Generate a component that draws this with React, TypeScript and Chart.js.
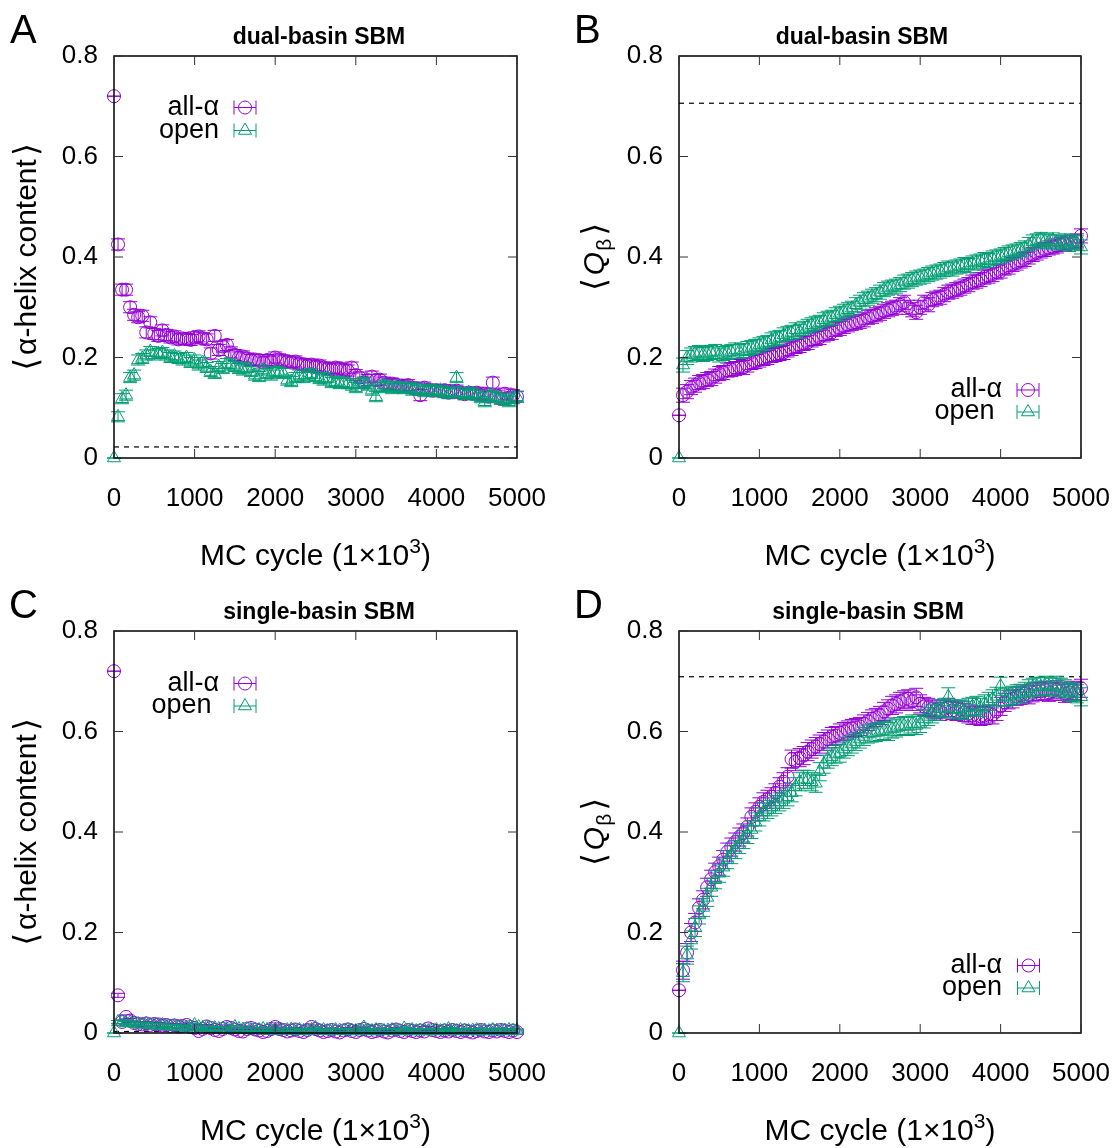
import React, { useEffect, useRef } from "react";
import { Chart, registerables } from "chart.js";

Chart.register(...registerables);

const FONT = "'Liberation Sans', 'DejaVu Sans', Arial, sans-serif";
const PURPLE = "#9400d3";
const GREEN = "#009e73";

// ---------------- data ----------------
const MC_CYCLE = [
  0, 50, 100, 150, 200, 250, 300, 350, 400, 450,
  500, 550, 600, 650, 700, 750, 800, 850, 900, 950,
  1000, 1050, 1100, 1150, 1200, 1250, 1300, 1350, 1400, 1450,
  1500, 1550, 1600, 1650, 1700, 1750, 1800, 1850, 1900, 1950,
  2000, 2050, 2100, 2150, 2200, 2250, 2300, 2350, 2400, 2450,
  2500, 2550, 2600, 2650, 2700, 2750, 2800, 2850, 2900, 2950,
  3000, 3050, 3100, 3150, 3200, 3250, 3300, 3350, 3400, 3450,
  3500, 3550, 3600, 3650, 3700, 3750, 3800, 3850, 3900, 3950,
  4000, 4050, 4100, 4150, 4200, 4250, 4300, 4350, 4400, 4450,
  4500, 4550, 4600, 4650, 4700, 4750, 4800, 4850, 4900, 4950, 5000,
];

const X_TICKS = [0, 1000, 2000, 3000, 4000, 5000];
const X_TICK_LABELS = ["0", "1000", "2000", "3000", "4000", "5000"];
const Y_TICKS = [0, 0.2, 0.4, 0.6, 0.8];
const Y_TICK_LABELS = ["0", "0.2", "0.4", "0.6", "0.8"];

// Panel A: dual-basin SBM, alpha-helix content
const A_ALL_ALPHA = [
  0.72, 0.425, 0.335, 0.335, 0.300, 0.285, 0.280, 0.283, 0.250, 0.270,
  0.247, 0.243, 0.254, 0.245, 0.240, 0.242, 0.236, 0.238, 0.237, 0.235,
  0.240, 0.242, 0.238, 0.236, 0.208, 0.243, 0.215, 0.222, 0.225, 0.210,
  0.205, 0.200, 0.202, 0.198, 0.195, 0.196, 0.194, 0.190, 0.195, 0.192,
  0.200, 0.196, 0.194, 0.192, 0.190, 0.192, 0.188, 0.186, 0.184, 0.186,
  0.182, 0.184, 0.180, 0.178, 0.176, 0.180, 0.178, 0.176, 0.174, 0.180,
  0.165, 0.160, 0.150, 0.155, 0.162, 0.155, 0.156, 0.150, 0.146, 0.148,
  0.146, 0.142, 0.144, 0.145, 0.140, 0.138, 0.125, 0.140, 0.136, 0.134,
  0.135, 0.133, 0.135, 0.130, 0.132, 0.134, 0.130, 0.127, 0.130, 0.128,
  0.130, 0.125, 0.128, 0.122, 0.150, 0.124, 0.118, 0.128, 0.120, 0.125, 0.122,
];
const A_OPEN = [
  0.000, 0.082, 0.118, 0.125, 0.160, 0.165, 0.195, 0.198, 0.205, 0.212,
  0.205, 0.208, 0.210, 0.205, 0.200, 0.203, 0.198, 0.195, 0.200, 0.190,
  0.195, 0.185, 0.190, 0.180, 0.172, 0.168, 0.182, 0.178, 0.188, 0.185,
  0.182, 0.178, 0.175, 0.180, 0.172, 0.165, 0.162, 0.175, 0.168, 0.165,
  0.172, 0.170, 0.168, 0.155, 0.152, 0.160, 0.165, 0.160, 0.165, 0.168,
  0.162, 0.158, 0.155, 0.160, 0.150, 0.152, 0.148, 0.150, 0.148, 0.145,
  0.140, 0.148, 0.150, 0.145, 0.135, 0.122, 0.140, 0.145, 0.142, 0.138,
  0.142, 0.140, 0.138, 0.140, 0.135, 0.138, 0.135, 0.132, 0.136, 0.134,
  0.132, 0.135, 0.130, 0.128, 0.132, 0.160, 0.130, 0.126, 0.130, 0.128,
  0.125, 0.120, 0.112, 0.125, 0.122, 0.120, 0.118, 0.115, 0.112, 0.118, 0.122,
];
const A_REFERENCE = 0.022;
const A_ALL_ALPHA_SEM = 0.011;
const A_OPEN_SEM = 0.01;

// Panel B: dual-basin SBM, Q_beta
const B_ALL_ALPHA = [
  0.085, 0.125, 0.132, 0.140, 0.145, 0.150, 0.152, 0.156, 0.158, 0.163,
  0.168, 0.170, 0.175, 0.176, 0.178, 0.182, 0.180, 0.185, 0.190, 0.192,
  0.195, 0.198, 0.200, 0.204, 0.206, 0.208, 0.210, 0.215, 0.218, 0.222,
  0.224, 0.228, 0.230, 0.235, 0.238, 0.240, 0.245, 0.248, 0.250, 0.256,
  0.258, 0.262, 0.265, 0.268, 0.270, 0.272, 0.275, 0.280, 0.282, 0.285,
  0.288, 0.292, 0.295, 0.298, 0.300, 0.305, 0.310, 0.300, 0.295, 0.290,
  0.300, 0.310, 0.305, 0.315, 0.318, 0.320, 0.325, 0.330, 0.332, 0.335,
  0.338, 0.342, 0.345, 0.350, 0.352, 0.355, 0.360, 0.362, 0.365, 0.370,
  0.372, 0.378, 0.380, 0.385, 0.388, 0.392, 0.395, 0.400, 0.405, 0.408,
  0.412, 0.415, 0.418, 0.420, 0.422, 0.425, 0.428, 0.425, 0.430, 0.432, 0.442,
];
const B_OPEN = [
  0.000, 0.185, 0.200, 0.205, 0.208, 0.210, 0.206, 0.208, 0.210, 0.212,
  0.205, 0.208, 0.210, 0.212, 0.215, 0.212, 0.214, 0.218, 0.220, 0.222,
  0.225, 0.228, 0.230, 0.235, 0.238, 0.240, 0.245, 0.248, 0.250, 0.255,
  0.252, 0.258, 0.262, 0.265, 0.268, 0.270, 0.275, 0.278, 0.280, 0.285,
  0.288, 0.292, 0.295, 0.298, 0.305, 0.310, 0.315, 0.318, 0.322, 0.325,
  0.330, 0.335, 0.338, 0.340, 0.342, 0.345, 0.350, 0.352, 0.355, 0.358,
  0.360, 0.362, 0.365, 0.368, 0.370, 0.372, 0.375, 0.378, 0.376, 0.380,
  0.382, 0.385, 0.383, 0.388, 0.390, 0.392, 0.395, 0.393, 0.398, 0.400,
  0.402, 0.405, 0.408, 0.410, 0.412, 0.415, 0.418, 0.425, 0.430, 0.432,
  0.435, 0.432, 0.430, 0.434, 0.430, 0.428, 0.432, 0.425, 0.430, 0.428, 0.420,
];
const B_REFERENCE = 0.706;
const B_ALL_ALPHA_SEM = 0.014;
const B_OPEN_SEM = 0.014;

// Panel C: single-basin SBM, alpha-helix content
const C_ALL_ALPHA = [
  0.72, 0.075, 0.022, 0.032, 0.025, 0.020, 0.018, 0.017, 0.019, 0.016,
  0.018, 0.017, 0.015, 0.016, 0.014, 0.015, 0.013, 0.014, 0.016, 0.012,
  0.010, 0.004, 0.008, 0.013, 0.010, 0.006, 0.004, 0.008, 0.012, 0.010,
  0.007, 0.004, 0.003, 0.008, 0.010, 0.007, 0.005, 0.002, 0.004, 0.008,
  0.012, 0.008, 0.006, 0.003, 0.005, 0.007, 0.004, 0.002, 0.006, 0.012,
  0.008, 0.005, 0.002, 0.004, 0.006, 0.003, 0.001, 0.005, 0.007, 0.004,
  0.002, 0.006, 0.008, 0.005, 0.002, 0.004, 0.006, 0.003, 0.001, 0.005,
  0.007, 0.004, 0.002, 0.006, 0.004, 0.002, 0.005, 0.003, 0.009, 0.006,
  0.004, 0.002, 0.005, 0.003, 0.006, 0.004, 0.002, 0.005, 0.003, 0.001,
  0.004, 0.006, 0.003, 0.002, 0.005, 0.003, 0.006, 0.004, 0.002, 0.005, 0.002,
];
const C_OPEN = [
  0.000, 0.022, 0.022, 0.020, 0.021, 0.019, 0.018, 0.017, 0.018, 0.016,
  0.016, 0.015, 0.016, 0.014, 0.013, 0.014, 0.012, 0.013, 0.011, 0.012,
  0.016, 0.012, 0.010, 0.011, 0.009, 0.010, 0.008, 0.009, 0.008, 0.007,
  0.012, 0.008, 0.007, 0.008, 0.006, 0.007, 0.006, 0.008, 0.006, 0.005,
  0.007, 0.006, 0.005, 0.006, 0.007, 0.005, 0.006, 0.004, 0.005, 0.006,
  0.010, 0.005, 0.006, 0.004, 0.005, 0.006, 0.005, 0.004, 0.006, 0.005,
  0.004, 0.005, 0.011, 0.005, 0.004, 0.006, 0.005, 0.004, 0.005, 0.006,
  0.005, 0.004, 0.009, 0.005, 0.006, 0.004, 0.005, 0.006, 0.004, 0.005,
  0.006, 0.004, 0.005, 0.008, 0.005, 0.004, 0.006, 0.005, 0.004, 0.005,
  0.006, 0.004, 0.005, 0.004, 0.006, 0.005, 0.004, 0.005, 0.006, 0.004, 0.005,
];
const C_REFERENCE = 0.003;
const C_ALL_ALPHA_SEM = 0.004;
const C_OPEN_SEM = 0.003;

// Panel D: single-basin SBM, Q_beta
const D_ALL_ALPHA = [
  0.085, 0.125, 0.160, 0.200, 0.220, 0.249, 0.265, 0.290, 0.306, 0.320,
  0.332, 0.345, 0.360, 0.370, 0.380, 0.390, 0.398, 0.410, 0.430, 0.440,
  0.450, 0.460, 0.465, 0.470, 0.478, 0.490, 0.500, 0.510, 0.545, 0.540,
  0.548, 0.552, 0.560, 0.565, 0.570, 0.575, 0.580, 0.585, 0.590, 0.592,
  0.597, 0.600, 0.603, 0.606, 0.608, 0.610, 0.615, 0.620, 0.625, 0.628,
  0.632, 0.640, 0.645, 0.652, 0.655, 0.660, 0.663, 0.665, 0.660, 0.668,
  0.655, 0.650, 0.648, 0.645, 0.643, 0.640, 0.645, 0.648, 0.642, 0.640,
  0.643, 0.638, 0.635, 0.632, 0.633, 0.630, 0.632, 0.635, 0.633, 0.640,
  0.650, 0.658, 0.663, 0.665, 0.670, 0.672, 0.675, 0.673, 0.677, 0.680,
  0.680, 0.682, 0.678, 0.680, 0.683, 0.680, 0.676, 0.678, 0.682, 0.680, 0.686,
];
const D_OPEN = [
  0.000, 0.120, 0.155, 0.185, 0.210, 0.235, 0.250, 0.270, 0.290, 0.305,
  0.318, 0.330, 0.345, 0.355, 0.365, 0.375, 0.385, 0.395, 0.405, 0.420,
  0.430, 0.440, 0.445, 0.450, 0.455, 0.460, 0.465, 0.470, 0.478, 0.490,
  0.500, 0.505, 0.504, 0.500, 0.497, 0.520, 0.535, 0.545, 0.550, 0.555,
  0.557, 0.565, 0.570, 0.575, 0.580, 0.585, 0.590, 0.595, 0.597, 0.598,
  0.600, 0.602, 0.600, 0.605, 0.607, 0.610, 0.612, 0.610, 0.615, 0.612,
  0.616, 0.625, 0.630, 0.635, 0.640, 0.645, 0.648, 0.669, 0.645, 0.643,
  0.645, 0.642, 0.648, 0.650, 0.652, 0.648, 0.655, 0.660, 0.665, 0.670,
  0.690, 0.668, 0.670, 0.672, 0.675, 0.676, 0.680, 0.685, 0.688, 0.690,
  0.689, 0.692, 0.690, 0.688, 0.692, 0.688, 0.685, 0.680, 0.678, 0.675, 0.669,
];
const D_REFERENCE = 0.709;
const D_ALL_ALPHA_SEM = 0.018;
const D_OPEN_SEM = 0.018;

const SERIES_LABELS = ["all-\u03b1", "open"];

// ---------------- layout ----------------
type Panel = {
  letter: string;
  x0: number; y0: number; w: number; h: number;
  area: { l: number; t: number; r: number; b: number };
  letterX: number; letterY: number;
  title: string; titleX: number; titleY: number;
  yKind: "helix" | "q"; yTitleX: number;
  xTitleY: number;
  alpha: number[]; open: number[]; ref: number; semAlpha: number; semOpen: number;
  legend: { mx: number; tr: number; ya: number; yo: number; openSuffix: string };
};

const PANELS: Panel[] = [
  {
    letter: "A", x0: 0, y0: 0, w: 559, h: 575,
    area: { l: 114, t: 56, r: 517, b: 458 },
    letterX: 10, letterY: 43, title: "dual-basin SBM", titleX: 319, titleY: 43.5,
    yKind: "helix", yTitleX: 36, xTitleY: 565,
    alpha: A_ALL_ALPHA, open: A_OPEN, ref: A_REFERENCE, semAlpha: A_ALL_ALPHA_SEM, semOpen: A_OPEN_SEM,
    legend: { mx: 245, tr: 219, ya: 107.5, yo: 130.5, openSuffix: "" },
  },
  {
    letter: "B", x0: 559, y0: 0, w: 559, h: 575,
    area: { l: 679, t: 56, r: 1081, b: 458 },
    letterX: 574, letterY: 43, title: "dual-basin SBM", titleX: 862, titleY: 43.5,
    yKind: "q", yTitleX: 604, xTitleY: 565,
    alpha: B_ALL_ALPHA, open: B_OPEN, ref: B_REFERENCE, semAlpha: B_ALL_ALPHA_SEM, semOpen: B_OPEN_SEM,
    legend: { mx: 1028, tr: 1002, ya: 390, yo: 412, openSuffix: " " },
  },
  {
    letter: "C", x0: 0, y0: 575, w: 559, h: 573,
    area: { l: 114, t: 631, r: 517, b: 1033 },
    letterX: 9, letterY: 618, title: "single-basin SBM", titleX: 319, titleY: 618.5,
    yKind: "helix", yTitleX: 36, xTitleY: 1140,
    alpha: C_ALL_ALPHA, open: C_OPEN, ref: C_REFERENCE, semAlpha: C_ALL_ALPHA_SEM, semOpen: C_OPEN_SEM,
    legend: { mx: 245, tr: 219, ya: 683.5, yo: 706, openSuffix: " " },
  },
  {
    letter: "D", x0: 559, y0: 575, w: 559, h: 573,
    area: { l: 679, t: 631, r: 1081, b: 1033 },
    letterX: 574, letterY: 618, title: "single-basin SBM", titleX: 868, titleY: 618.5,
    yKind: "q", yTitleX: 604, xTitleY: 1140,
    alpha: D_ALL_ALPHA, open: D_OPEN, ref: D_REFERENCE, semAlpha: D_ALL_ALPHA_SEM, semOpen: D_OPEN_SEM,
    legend: { mx: 1028.5, tr: 1002, ya: 965.5, yo: 988, openSuffix: "" },
  },
];

const CAP = 7;
const CIRCLE_R = 6.5;
const TRI_R = 7.5;

function drawMarker(ctx: CanvasRenderingContext2D, kind: string, cx: number, cy: number) {
  ctx.beginPath();
  if (kind === "circle") {
    ctx.arc(cx, cy, CIRCLE_R, 0, Math.PI * 2);
  } else {
    const r = TRI_R;
    ctx.moveTo(cx, cy - r);
    ctx.lineTo(cx + r * Math.sin((2 * Math.PI) / 3), cy - r * Math.cos((2 * Math.PI) / 3));
    ctx.lineTo(cx + r * Math.sin((4 * Math.PI) / 3), cy - r * Math.cos((4 * Math.PI) / 3));
    ctx.closePath();
  }
  ctx.stroke();
}

// draws a sequence of [text, font, dy] pieces starting at x (left aligned)
function piecesWidth(ctx: CanvasRenderingContext2D, pieces: [string, string, number, number][]) {
  let w = 0;
  pieces.forEach(([t, f, , gap]) => {
    ctx.font = f;
    w += ctx.measureText(t).width + gap;
  });
  return w;
}
function drawPieces(ctx: CanvasRenderingContext2D, pieces: [string, string, number, number][], x: number, y: number) {
  let cx = x;
  pieces.forEach(([t, f, dy, gap]) => {
    ctx.font = f;
    ctx.fillText(t, cx, y + dy);
    cx += ctx.measureText(t).width + gap;
  });
}

function makePlugin(p: Panel) {
  const ox = p.x0;
  const oy = p.y0;
  return {
    id: "panelDecor" + p.letter,
    afterDatasetDraw(chart: any, args: any) {
      const ds = chart.data.datasets[args.index];
      if (ds.sem == null) return;
      const ys = chart.scales.y;
      const ctx: CanvasRenderingContext2D = chart.ctx;
      ctx.save();
      ctx.strokeStyle = ds.pointBorderColor;
      ctx.lineWidth = 1;
      ctx.beginPath();
      args.meta.data.forEach((el: any, i: number) => {
        const pt = ds.data[i];
        const e = pt.x === 0 ? 0 : ds.sem; // cycle 0: identical starting structures
        const y1 = ys.getPixelForValue(pt.y - e);
        const y2 = ys.getPixelForValue(pt.y + e);
        ctx.moveTo(el.x, y1);
        ctx.lineTo(el.x, y2);
        ctx.moveTo(el.x - CAP, y1);
        ctx.lineTo(el.x + CAP, y1);
        ctx.moveTo(el.x - CAP, y2);
        ctx.lineTo(el.x + CAP, y2);
      });
      ctx.stroke();
      ctx.restore();
    },
    afterDraw(chart: any) {
      const ctx: CanvasRenderingContext2D = chart.ctx;
      const ca = chart.chartArea;
      const xs = chart.scales.x;
      const ys = chart.scales.y;
      ctx.save();
      // frame
      ctx.strokeStyle = "#000";
      ctx.lineWidth = 1.5;
      ctx.strokeRect(ca.left, ca.top, ca.right - ca.left, ca.bottom - ca.top);
      // inward mirrored ticks
      ctx.lineWidth = 1;
      ctx.strokeStyle = "#333";
      ctx.beginPath();
      X_TICKS.forEach((v) => {
        const px = xs.getPixelForValue(v);
        ctx.moveTo(px, ca.bottom);
        ctx.lineTo(px, ca.bottom - 9);
        ctx.moveTo(px, ca.top);
        ctx.lineTo(px, ca.top + 9);
      });
      Y_TICKS.forEach((v) => {
        const py = ys.getPixelForValue(v);
        ctx.moveTo(ca.left, py);
        ctx.lineTo(ca.left + 9, py);
        ctx.moveTo(ca.right, py);
        ctx.lineTo(ca.right - 9, py);
      });
      ctx.stroke();

      ctx.fillStyle = "#000";
      // panel letter
      ctx.font = `40px ${FONT}`;
      ctx.textAlign = "left";
      ctx.textBaseline = "alphabetic";
      ctx.fillText(p.letter, p.letterX - ox, p.letterY - oy);
      // title
      ctx.font = `bold 23px ${FONT}`;
      ctx.textAlign = "center";
      ctx.fillText(p.title, p.titleX - ox, p.titleY - oy);

      // x axis title: MC cycle (1×10^3)
      ctx.textAlign = "left";
      const cx = (ca.left + ca.right) / 2;
      const xPieces: [string, string, number, number][] = [
        ["MC cycle (1\u00d710", `30px ${FONT}`, 0, 0],
        ["3", `21px ${FONT}`, -12, 0],
        [")", `30px ${FONT}`, 0, 0],
      ];
      const wx = piecesWidth(ctx, xPieces);
      drawPieces(ctx, xPieces, cx - wx / 2, p.xTitleY - oy);

      // y axis title (rotated)
      const cy = (ca.top + ca.bottom) / 2;
      ctx.save();
      ctx.translate(p.yTitleX - ox, cy);
      ctx.rotate(-Math.PI / 2);
      ctx.textAlign = "left";
      const yPieces: [string, string, number, number][] =
        p.yKind === "helix"
          ? [
              ["\u27e8", `33px ${FONT}`, 1, 3],
              ["\u03b1-helix content", `30px ${FONT}`, 0, 3],
              ["\u27e9", `33px ${FONT}`, 1, 0],
            ]
          : [
              ["\u27e8", `33px ${FONT}`, 1, 3],
              ["Q", `italic 30px ${FONT}`, 0, 1],
              ["\u03b2", `21px ${FONT}`, 7, 3],
              ["\u27e9", `33px ${FONT}`, 1, 0],
            ];
      const wy = piecesWidth(ctx, yPieces);
      drawPieces(ctx, yPieces, -wy / 2, 0);
      ctx.restore();

      // key
      const lg = p.legend;
      const entries = [
        { label: SERIES_LABELS[0], y: lg.ya, color: PURPLE, kind: "circle" },
        { label: SERIES_LABELS[1] + lg.openSuffix, y: lg.yo, color: GREEN, kind: "triangle" },
      ];
      entries.forEach((en) => {
        const mx = lg.mx - ox;
        const my = en.y - oy;
        ctx.fillStyle = "#000";
        ctx.font = `27px ${FONT}`;
        ctx.textAlign = "right";
        ctx.textBaseline = "middle";
        ctx.fillText(en.label, lg.tr - ox, my);
        ctx.strokeStyle = en.color;
        ctx.lineWidth = 1;
        ctx.beginPath();
        ctx.moveTo(mx - 11, my);
        ctx.lineTo(mx + 11, my);
        ctx.moveTo(mx - 11, my - 7);
        ctx.lineTo(mx - 11, my + 7);
        ctx.moveTo(mx + 11, my - 7);
        ctx.lineTo(mx + 11, my + 7);
        ctx.stroke();
        drawMarker(ctx, en.kind, mx, my);
      });
      ctx.restore();
    },
  };
}

function buildConfig(p: Panel): any {
  const rel = { l: p.area.l - p.x0, t: p.area.t - p.y0, r: p.area.r - p.x0, b: p.area.b - p.y0 };
  const tickFont = { family: FONT, size: 26 };
  return {
    type: "scatter",
    data: {
      datasets: [
        {
          label: "reference",
          data: [
            { x: X_TICKS[0], y: p.ref },
            { x: X_TICKS[X_TICKS.length - 1], y: p.ref },
          ],
          showLine: true,
          borderColor: "#000",
          borderWidth: 1.2,
          borderDash: [5, 5],
          pointRadius: 0,
          order: 3,
          clip: false,
        },
        {
          label: SERIES_LABELS[0],
          data: MC_CYCLE.map((x, i) => ({ x, y: p.alpha[i] })),
          sem: p.semAlpha,
          pointStyle: "circle",
          pointRadius: CIRCLE_R,
          pointBorderColor: PURPLE,
          borderColor: PURPLE,
          pointBackgroundColor: "rgba(0,0,0,0)",
          backgroundColor: "rgba(0,0,0,0)",
          pointBorderWidth: 1,
          order: 2,
          clip: false,
        },
        {
          label: SERIES_LABELS[1],
          data: MC_CYCLE.map((x, i) => ({ x, y: p.open[i] })),
          sem: p.semOpen,
          pointStyle: "triangle",
          pointRadius: TRI_R,
          pointBorderColor: GREEN,
          borderColor: GREEN,
          pointBackgroundColor: "rgba(0,0,0,0)",
          backgroundColor: "rgba(0,0,0,0)",
          pointBorderWidth: 1,
          order: 1,
          clip: false,
        },
      ],
    },
    options: {
      responsive: false,
      animation: false,
      events: [],
      layout: { padding: { left: 0, top: rel.t, right: p.w - rel.r, bottom: 0 } },
      plugins: {
        legend: { display: false },
        tooltip: { enabled: false },
        title: { display: false },
      },
      scales: {
        x: {
          type: "linear",
          min: 0,
          max: 5000,
          grid: {
            display: true,
            drawOnChartArea: false,
            drawTicks: true,
            tickLength: 25,
            color: "rgba(0,0,0,0)",
          },
          border: { display: false },
          ticks: {
            font: tickFont,
            color: "#000",
            padding: 0,
            maxRotation: 0,
            autoSkip: false,
            callback: (_v: any, i: number) => X_TICK_LABELS[i],
          },
          afterBuildTicks: (s: any) => {
            s.ticks = X_TICKS.map((v) => ({ value: v }));
          },
          afterFit: (s: any) => {
            s.height = p.h - rel.b;
          },
        },
        y: {
          type: "linear",
          min: 0,
          max: 0.8,
          grid: { display: false, drawTicks: false },
          border: { display: false },
          ticks: {
            font: tickFont,
            color: "#000",
            padding: 16,
            autoSkip: false,
            callback: (_v: any, i: number) => Y_TICK_LABELS[i],
          },
          afterBuildTicks: (s: any) => {
            s.ticks = Y_TICKS.map((v) => ({ value: v }));
          },
          afterFit: (s: any) => {
            s.width = rel.l;
          },
        },
      },
    },
    plugins: [makePlugin(p)],
  };
}

function PanelChart({ p }: { p: Panel }) {
  const ref = useRef<HTMLCanvasElement | null>(null);
  useEffect(() => {
    if (!ref.current) return;
    const chart = new Chart(ref.current, buildConfig(p));
    return () => chart.destroy();
  }, [p]);
  return (
    <canvas
      ref={ref}
      width={p.w}
      height={p.h}
      style={{ position: "absolute", left: p.x0, top: p.y0, width: p.w, height: p.h }}
    />
  );
}

export default function App() {
  return (
    <div style={{ position: "absolute", left: 0, top: 0, width: 1118, height: 1148, background: "#fff" }}>
      {PANELS.map((p) => (
        <PanelChart key={p.letter} p={p} />
      ))}
    </div>
  );
}
